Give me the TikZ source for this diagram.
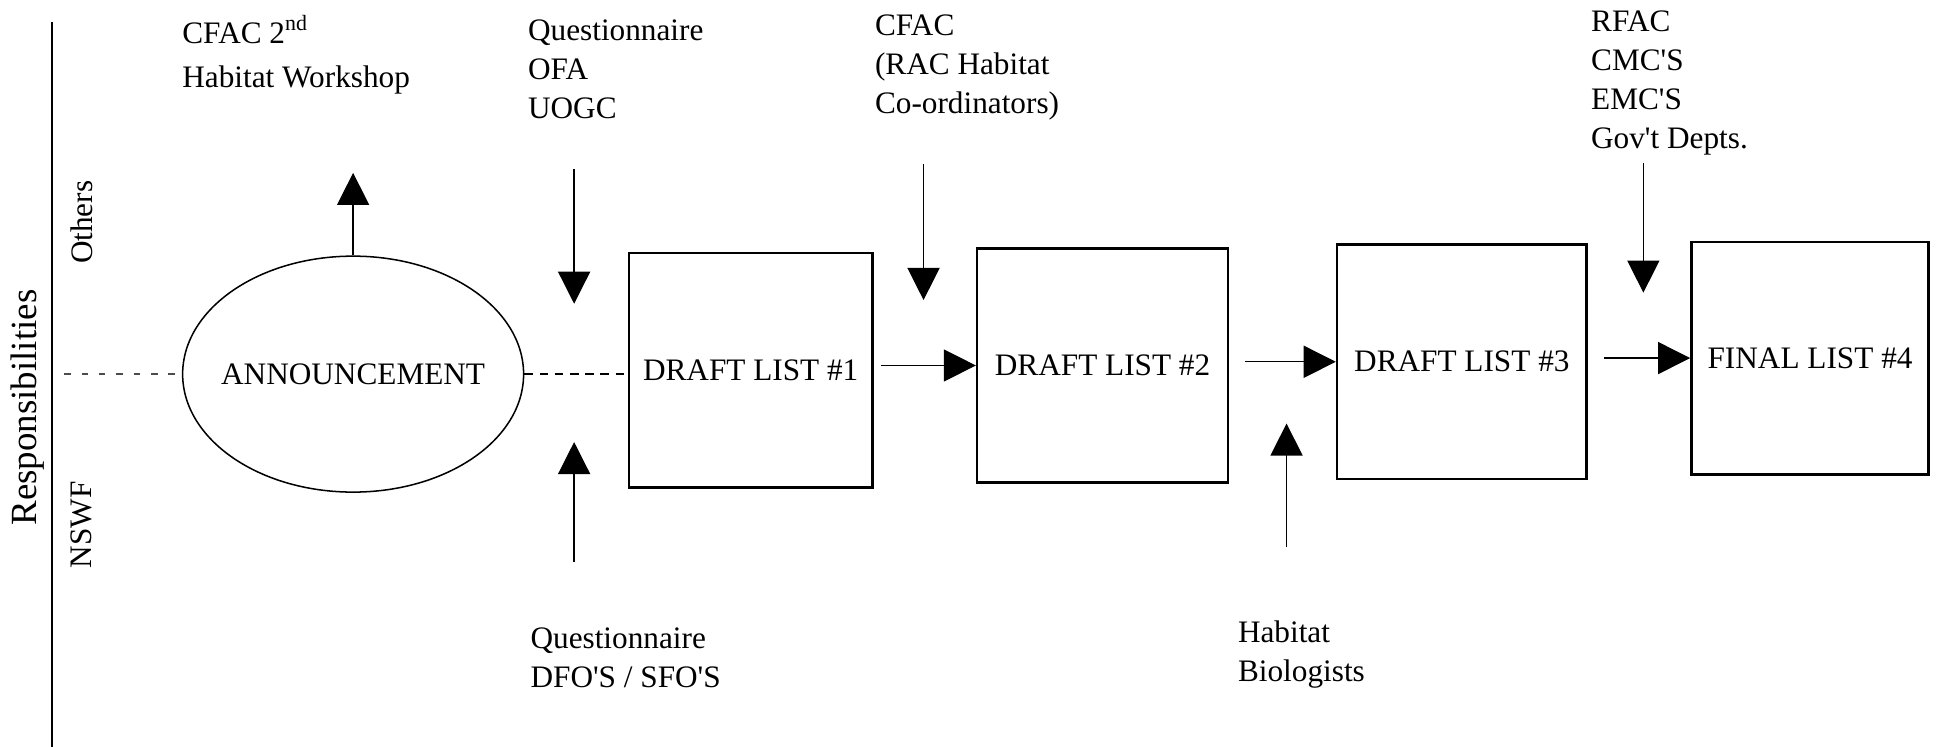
\documentclass[tikz,border=0pt]{standalone}
\usepackage{fontspec}
\setmainfont{Liberation Serif}
\usetikzlibrary{arrows.meta,shapes.geometric}

\begin{document}
\begin{tikzpicture}[x=0.01cm,y=-0.01cm,>={Triangle[length=2.6mm,width=2.6mm]}]
    \tikzstyle{every node}=[font=\fontsize{7.2}{9}\selectfont]
    \tikzstyle{box}=[rectangle,draw,line width=0.6pt,inner sep=0pt]
    \tikzstyle{who}=[anchor=north west,align=left,inner sep=0pt]
    \tikzstyle{side}=[rotate=90,inner sep=0pt]
    \tikzstyle{flow}=[line width=0.3pt]
    \useasboundingbox (0,0) rectangle (1568,605);
    % responsibilities axis
    \coordinate (axtop) at (42,18);
    \coordinate (axbot) at (42,605);
    \draw [line width=0.3pt] (axtop) -- (axbot);
    \node (resp) at (22,330) [side,font=\fontsize{8.5}{10}\selectfont] {Responsibilities};
    \node (others) at (66,180) [side] {Others};
    \node (nswf) at (66,425) [side] {NSWF};
    % steps
    \node (announce) at (286,303) [ellipse,draw,line width=0.35pt,inner sep=0pt,minimum width=2.76cm,minimum height=1.91cm] {\makebox[0pt]{ANNOUNCEMENT}};
    \node (draft1) at (608,300) [box,minimum width=1.97cm,minimum height=1.90cm] {DRAFT LIST \#1};
    \node (draft2) at (893,296) [box,minimum width=2.03cm,minimum height=1.89cm] {DRAFT LIST \#2};
    \node (draft3) at (1184,293) [box,minimum width=2.02cm,minimum height=1.90cm] {DRAFT LIST \#3};
    \node (final4) at (1466,290) [box,minimum width=1.92cm,minimum height=1.88cm] {FINAL LIST \#4};
    % who takes part
    \node (workshop) at (147,12) [who] {CFAC 2\textsuperscript{nd}\\[1pt] Habitat Workshop};
    \node (quest1) at (427,15) [who] {Questionnaire\\ OFA\\ UOGC};
    \node (cfac) at (708,11) [who] {CFAC\\ (RAC Habitat\\ Co-ordinators)};
    \node (rfac) at (1288,8) [who] {RFAC\\ CMC\textquotesingle S\\ EMC\textquotesingle S\\ Gov\textquotesingle t Depts.};
    \node (quest2) at (429,508) [who] {Questionnaire\\ DFO\textquotesingle S / SFO\textquotesingle S};
    \node (biol) at (1002,502) [who] {Habitat\\ Biologists};
    % arrow ends
    \coordinate (dotend) at (52,303);
    \coordinate (workshoptip) at (286,140);
    \coordinate (quest1a) at (465,137);
    \coordinate (quest1b) at (465,246);
    \coordinate (quest2a) at (465,455);
    \coordinate (quest2b) at (465,358);
    \coordinate (cfaca) at (748,133);
    \coordinate (cfacb) at (748,243);
    \coordinate (biola) at (1042,443);
    \coordinate (biolb) at (1042,343);
    \coordinate (rfaca) at (1331,132);
    \coordinate (rfacb) at (1331,237);
    \draw [line width=0.3pt,black!70,dash pattern=on 1.5pt off 2.5pt] (dotend) -- (announce.west);
    \draw [line width=0.3pt,dash pattern=on 2pt off 1.5pt] (announce.east) -- (draft1.west |- announce.east);
    \draw [->,flow] (announce.north) -- (workshoptip);
    \draw [->,flow] (quest1a) -- (quest1b);
    \draw [->,flow] (quest2a) -- (quest2b);
    \draw [->,flow] (cfaca) -- (cfacb);
    \draw [->,flow] (biola) -- (biolb);
    \draw [->,flow] (rfaca) -- (rfacb);
    \draw [->,flow,shorten <=0.6mm] (draft1.east |- draft2.west) -- (draft2.west);
    \draw [->,flow,shorten <=1.3mm] (draft2.east |- draft3.west) -- (draft3.west);
    \draw [->,flow,shorten <=1.3mm] (draft3.east |- final4.west) -- (final4.west);
\end{tikzpicture}
\end{document}
